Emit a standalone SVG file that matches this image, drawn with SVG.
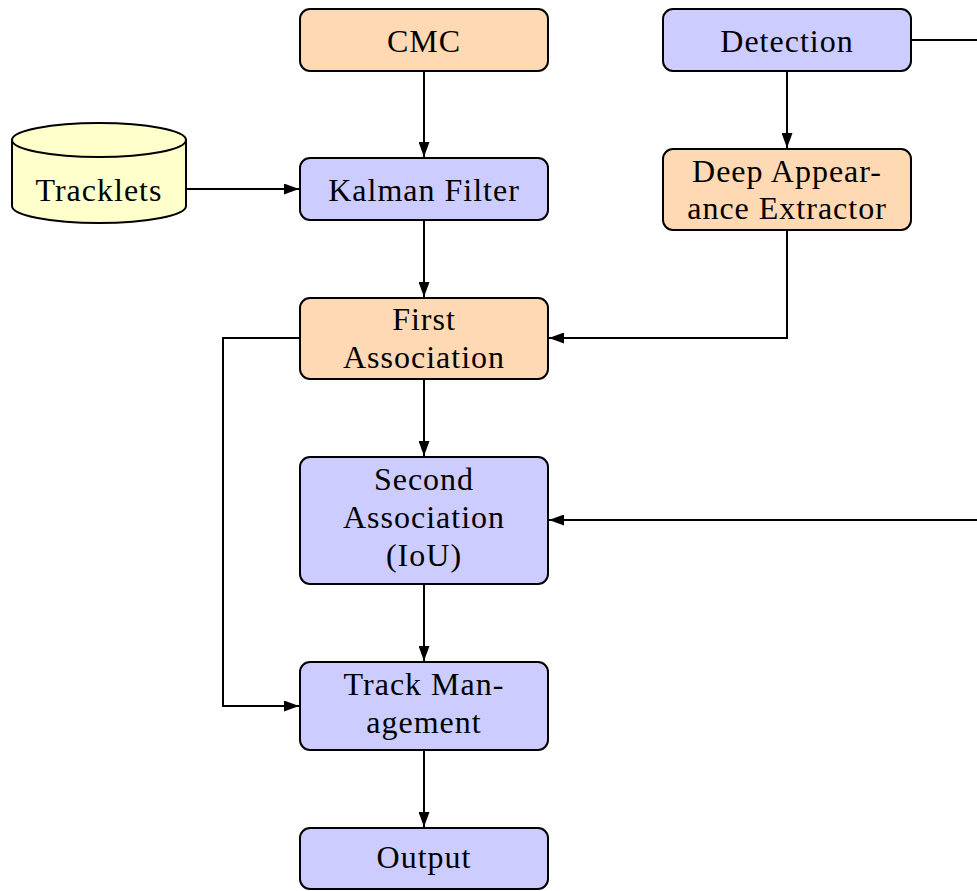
<svg xmlns="http://www.w3.org/2000/svg" width="977" height="891" viewBox="0 0 977 891">
  <style>
    .box { stroke: #000; stroke-width: 2; }
    .blue { fill: #ccccff; }
    .orange { fill: #ffd9b3; }
    .store { fill: #ffffcc; stroke: #000; stroke-width: 2; }
    .lbl { font-family: "Liberation Serif", "DejaVu Serif", serif; font-size: 32px; letter-spacing: 1px; fill: #000; text-anchor: middle; }
    .edge { fill: none; stroke: #000; stroke-width: 2; }
  </style>
  <defs>
    <marker id="arrow" viewBox="0 0 15 11" refX="15" refY="5.5" markerWidth="15" markerHeight="11" markerUnits="userSpaceOnUse" orient="auto">
      <path d="M0,0 L15,5.5 L0,11 Z" fill="#000"/>
    </marker>
  </defs>
  <rect width="977" height="891" fill="#fff"/>

  <g id="connectors">
    <path class="edge" d="M424,71 V157" marker-end="url(#arrow)"/>
    <path class="edge" d="M186,189 H299" marker-end="url(#arrow)"/>
    <path class="edge" d="M424,220 V297" marker-end="url(#arrow)"/>
    <path class="edge" d="M787,71 V148" marker-end="url(#arrow)"/>
    <path class="edge" d="M787,230 V338 H549" marker-end="url(#arrow)"/>
    <path class="edge" d="M911,40 H977"/>
    <path class="edge" d="M977,520 H549" marker-end="url(#arrow)"/>
    <path class="edge" d="M424,379 V456" marker-end="url(#arrow)"/>
    <path class="edge" d="M300,338 H223 V706 H299" marker-end="url(#arrow)"/>
    <path class="edge" d="M424,584 V661" marker-end="url(#arrow)"/>
    <path class="edge" d="M424,750 V827" marker-end="url(#arrow)"/>
  </g>

  <g id="cmc">
    <rect class="box orange" x="300" y="9" width="248" height="62" rx="10"/>
    <text class="lbl" x="424" y="52">CMC</text>
  </g>
  <g id="detection">
    <rect class="box blue" x="663" y="9" width="248" height="62" rx="10"/>
    <text class="lbl" x="787" y="52">Detection</text>
  </g>
  <g id="tracklets">
    <path class="store" d="M12,140 V206 A87,17 0 0 0 186,206 V140 Z"/>
    <ellipse class="store" cx="99" cy="140" rx="87" ry="17"/>
    <text class="lbl" x="99" y="201">Tracklets</text>
  </g>
  <g id="kalman">
    <rect class="box blue" x="300" y="158" width="248" height="62" rx="10"/>
    <text class="lbl" x="424" y="201">Kalman Filter</text>
  </g>
  <g id="deep-appearance">
    <rect class="box orange" x="663" y="149" width="248" height="81" rx="10"/>
    <text class="lbl" x="787" y="182">Deep Appear-</text>
    <text class="lbl" x="787" y="219">ance Extractor</text>
  </g>
  <g id="first-association">
    <rect class="box orange" x="300" y="298" width="248" height="81" rx="10"/>
    <text class="lbl" x="424" y="330">First</text>
    <text class="lbl" x="424" y="368">Association</text>
  </g>
  <g id="second-association">
    <rect class="box blue" x="300" y="457" width="248" height="127" rx="10"/>
    <text class="lbl" x="424" y="490">Second</text>
    <text class="lbl" x="424" y="528">Association</text>
    <text class="lbl" x="424" y="566">(IoU)</text>
  </g>
  <g id="track-management">
    <rect class="box blue" x="300" y="662" width="248" height="88" rx="10"/>
    <text class="lbl" x="424" y="695">Track Man-</text>
    <text class="lbl" x="424" y="733">agement</text>
  </g>
  <g id="output">
    <rect class="box blue" x="300" y="828" width="248" height="61" rx="10"/>
    <text class="lbl" x="424" y="868">Output</text>
  </g>
</svg>
